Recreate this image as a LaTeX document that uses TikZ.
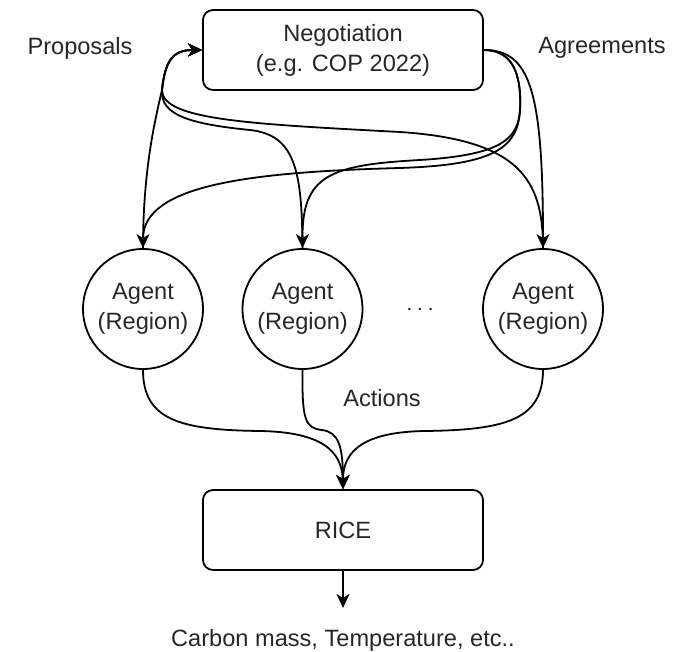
\documentclass[tikz,border=0pt]{standalone}
\usepackage{fontspec}
\setmainfont{Liberation Sans}
\usetikzlibrary{arrows.meta}
\begin{document}
\begin{tikzpicture}[x=0.5pt,y=-0.5pt,
  every node/.style={font=\fontsize{11.8}{15}\selectfont, text=black!85, align=center},
  box/.style={draw=black, line width=0.9pt, rounded corners=5pt, minimum width=140pt, minimum height=40pt, inner sep=0pt},
  agent/.style={draw=black, line width=0.9pt, circle, minimum size=60pt, inner sep=0pt},
  conn/.style={draw=black, line width=0.9pt, -{Stealth[length=7pt,width=6.5pt,inset=2pt]}},
  lbl/.style={inner sep=0pt}
]
\useasboundingbox (0,0) rectangle (675,652);

\node[box] (neg) at (343,50) {Negotiation\\(e.g. COP 2022)};
\node[agent] (a1) at (143,309) {Agent\\(Region)};
\node[agent] (a2) at (302.5,309) {Agent\\(Region)};
\node[agent] (a3) at (543,309) {Agent\\(Region)};
\node[box] (rice) at (343,530) {RICE};
\node[lbl] (out) at (343,640) {Carbon mass, Temperature, etc..};

\node[lbl] (prop) at (80,48) {Proposals};
\node[lbl] (agr) at (602,48) {Agreements};
\node[lbl] (act) at (382,398) {Actions};
\node[lbl] (dots) at (420,310) {$\cdots$};

% Proposals (agents -> negotiation)
\draw[conn] (a1.north) .. controls (143,170) and (155,120) .. (162,90)
  .. controls (165,62) and (172,50) .. (neg.west);
\draw[conn] (a2.north) .. controls (302,170) and (295,135) .. (250,130)
  .. controls (190,124) and (160,115) .. (162,90)
  .. controls (165,62) and (172,50) .. (neg.west);
\draw[conn] (a3.north) .. controls (543,180) and (520,140) .. (400,132)
  .. controls (250,124) and (162,120) .. (162,90)
  .. controls (165,62) and (172,50) .. (neg.west);

% Agreements (negotiation -> agents)
\draw[conn] (neg.east) .. controls (530,50) and (543,90) .. (a3.north);
\draw[conn] (neg.east) .. controls (510,50) and (522,70) .. (520,110)
  .. controls (518,150) and (490,165) .. (400,168)
  .. controls (250,172) and (143,185) .. (a1.north);
\draw[conn] (neg.east) .. controls (510,50) and (522,70) .. (520,110)
  .. controls (518,140) and (500,155) .. (420,160)
  .. controls (330,165) and (302,175) .. (a2.north);

% Actions (agents -> RICE)
\draw[conn] (a1.south) .. controls (143,420) and (180,430) .. (260,431)
  .. controls (320,432) and (342,450) .. (rice.north);
\draw[conn] (a2.south) .. controls (302,420) and (305,428) .. (322,430)
  .. controls (338,432) and (343,445) .. (rice.north);
\draw[conn] (a3.south) .. controls (543,420) and (505,430) .. (425,431)
  .. controls (365,432) and (343,450) .. (rice.north);

% Output
\draw[conn, shorten >=16pt] (rice.south) -- (out.center);
\end{tikzpicture}
\end{document}
